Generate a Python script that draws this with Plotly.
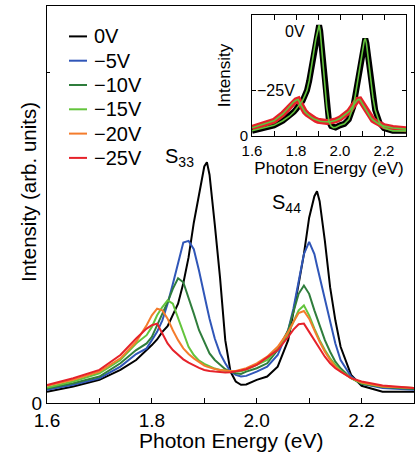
import plotly.graph_objects as go

# ---------------- data ----------------
energy = [1.60, 1.65, 1.70, 1.74, 1.77, 1.79, 1.80, 1.81, 1.82, 1.83, 1.84, 1.85,
          1.86, 1.87, 1.88, 1.89, 1.90, 1.905, 1.91, 1.92, 1.93, 1.94, 1.95, 1.96, 1.97,
          1.98, 2.00, 2.02, 2.04, 2.06, 2.07, 2.08, 2.09, 2.10, 2.11, 2.115, 2.12,
          2.13, 2.14, 2.15, 2.16, 2.18, 2.20, 2.24, 2.30]

v0 = [0.034, 0.050, 0.070, 0.100, 0.130, 0.158, 0.175, 0.192, 0.215, 0.232, 0.265, 0.300,
      0.362, 0.440, 0.545, 0.635, 0.715, 0.728, 0.690, 0.540, 0.380, 0.190, 0.095, 0.065, 0.055,
      0.056, 0.070, 0.080, 0.110, 0.190, 0.270, 0.360, 0.450, 0.560, 0.625, 0.640, 0.610,
      0.490, 0.350, 0.250, 0.170, 0.085, 0.052, 0.034, 0.034]

v5 = [0.040, 0.055, 0.075, 0.110, 0.148, 0.165, 0.190, 0.215, 0.250, 0.300, 0.360, 0.420,
      0.485, 0.490, 0.465, 0.400, 0.320, 0.290, 0.255, 0.195, 0.150, 0.120, 0.095, 0.085, 0.080,
      0.082, 0.095, 0.110, 0.145, 0.220, 0.285, 0.370, 0.450, 0.487, 0.450, 0.415, 0.380,
      0.310, 0.240, 0.180, 0.130, 0.080, 0.058, 0.045, 0.040]

v10 = [0.044, 0.060, 0.080, 0.120, 0.160, 0.180, 0.200, 0.235, 0.265, 0.305, 0.345, 0.377,
       0.365, 0.320, 0.270, 0.220, 0.185, 0.167, 0.150, 0.130, 0.115, 0.102, 0.095, 0.090, 0.088,
       0.095, 0.105, 0.120, 0.160, 0.220, 0.275, 0.330, 0.355, 0.330, 0.280, 0.257, 0.235,
       0.190, 0.155, 0.125, 0.105, 0.075, 0.058, 0.048, 0.042]

v15 = [0.047, 0.065, 0.090, 0.130, 0.180, 0.205, 0.230, 0.265, 0.290, 0.310, 0.300, 0.255,
       0.210, 0.170, 0.145, 0.128, 0.118, 0.114, 0.110, 0.104, 0.100, 0.097, 0.095, 0.095, 0.096,
       0.100, 0.115, 0.130, 0.165, 0.210, 0.245, 0.280, 0.295, 0.265, 0.225, 0.207, 0.190,
       0.160, 0.135, 0.115, 0.098, 0.075, 0.060, 0.050, 0.045]

v20 = [0.052, 0.070, 0.095, 0.135, 0.185, 0.235, 0.265, 0.285, 0.280, 0.255, 0.220, 0.190,
       0.165, 0.148, 0.135, 0.123, 0.113, 0.110, 0.107, 0.103, 0.100, 0.098, 0.097, 0.097, 0.100,
       0.105, 0.120, 0.140, 0.170, 0.215, 0.245, 0.272, 0.278, 0.255, 0.220, 0.202, 0.185,
       0.155, 0.130, 0.110, 0.095, 0.075, 0.062, 0.050, 0.045]

v25 = [0.054, 0.075, 0.100, 0.145, 0.195, 0.225, 0.235, 0.240, 0.210, 0.180, 0.160, 0.145,
       0.132, 0.122, 0.113, 0.106, 0.100, 0.098, 0.097, 0.095, 0.093, 0.092, 0.093, 0.095, 0.098,
       0.102, 0.115, 0.138, 0.160, 0.200, 0.222, 0.238, 0.240, 0.215, 0.190, 0.176, 0.162,
       0.140, 0.120, 0.105, 0.095, 0.075, 0.065, 0.053, 0.045]

series_names = ["0V", "\u22125V", "\u221210V", "\u221215V", "\u221220V", "\u221225V"]
series_vals = [v0, v5, v10, v15, v20, v25]
series_colors = ["#000000", "#3056b8", "#2f7d3c", "#63c43c", "#f47c2c", "#e6222a"]

x_ticks = [1.6, 1.8, 2.0, 2.2]

FONT = "Liberation Sans, Arial, Helvetica, sans-serif"

fig = go.Figure()

# main traces
for name, vals, col in zip(series_names, series_vals, series_colors):
    fig.add_trace(go.Scatter(x=energy, y=vals, mode="lines", name=name,
                             line=dict(color=col, width=2), showlegend=False,
                             xaxis="x", yaxis="y"))

# inset traces: thick data + thin green fit
for vals, col in [(v0, series_colors[0]), (v25, series_colors[5])]:
    fig.add_trace(go.Scatter(x=energy, y=vals, mode="lines", line=dict(color=col, width=6),
                             showlegend=False, xaxis="x2", yaxis="y2"))
for vals in [v0, v25]:
    fig.add_trace(go.Scatter(x=energy, y=vals, mode="lines",
                             line=dict(color=series_colors[3], width=1.6),
                             showlegend=False, xaxis="x2", yaxis="y2"))

# plot-area geometry (pixels)
W, H = 417, 462
ML, MR, MT, MB = 47, 3, 6, 59
PW, PH = W - ML - MR, H - MT - MB


def px(xp):
    return (xp - ML) / PW


def py(yp):
    return (H - MB - yp) / PH


# manual legend
shapes = []
annotations = []
for i, (name, col) in enumerate(zip(series_names, series_colors)):
    yy = 36.4 + 24.3 * i
    shapes.append(dict(type="line", xref="paper", yref="paper", x0=px(69), x1=px(87),
                       y0=py(yy), y1=py(yy), line=dict(color=col, width=2)))
    annotations.append(dict(xref="paper", yref="paper", x=px(92), y=py(yy), text=name,
                            showarrow=False, xanchor="left", yanchor="middle",
                            font=dict(size=20, color="black", family=FONT)))

annotations += [
    dict(xref="x", yref="y", x=1.821, y=0.742, text="S<sub>33</sub>", showarrow=False,
         xanchor="left", yanchor="middle", font=dict(size=20, color="black", family=FONT)),
    dict(xref="x", yref="y", x=2.025, y=0.602, text="S<sub>44</sub>", showarrow=False,
         xanchor="left", yanchor="middle", font=dict(size=20, color="black", family=FONT)),
    dict(xref="x2", yref="y2", x=1.795, y=0.684, text="0V", showarrow=False,
         xanchor="center", yanchor="middle", font=dict(size=16, color="black", family=FONT)),
    dict(xref="x2", yref="y2", x=1.71, y=0.30, text="\u221225V", showarrow=False,
         xanchor="center", yanchor="middle", font=dict(size=16, color="black", family=FONT)),
    # main axis titles
    dict(xref="paper", yref="paper", x=px(231), y=py(440), text="Photon Energy (eV)",
         showarrow=False, xanchor="center", yanchor="middle",
         font=dict(size=21, color="black", family=FONT)),
    dict(xref="paper", yref="paper", x=px(28), y=py(192), text="Intensity (arb. units)",
         showarrow=False, xanchor="center", yanchor="middle", textangle=-90,
         font=dict(size=20.5, color="black", family=FONT)),
]

ins_x0, ins_x1 = px(252), px(406)
ins_y0, ins_y1 = py(136), py(15)

fig.update_layout(
    width=W, height=H,
    margin=dict(l=ML, r=MR, t=MT, b=MB),
    paper_bgcolor="white", plot_bgcolor="white",
    font=dict(family=FONT, color="black"),
    shapes=shapes, annotations=annotations,
    xaxis=dict(domain=[0, 1], range=[1.6, 2.3], tickvals=x_ticks, tickformat=".1f",
               ticks="inside", ticklen=5,
               tickcolor="black", showline=True, linecolor="black", linewidth=1.2,
               mirror=True, showgrid=False, zeroline=False,
               minor=dict(ticks="inside", dtick=0.1, tick0=1.6, ticklen=5, tickcolor="black"),
               tickfont=dict(size=19, family=FONT)),
    yaxis=dict(domain=[0, 1], range=[0, 1.2], tickvals=[0],
               minor=dict(ticks="inside", tickvals=[1.0], ticklen=3, tickcolor="black"),
               ticks="inside", ticklen=3, tickcolor="black", showline=True, linecolor="black",
               linewidth=1.2, mirror="ticks", showgrid=False, zeroline=False,
               tickfont=dict(size=19, family=FONT)),
    xaxis2=dict(domain=[ins_x0, ins_x1], anchor="y2", range=[1.6, 2.3],
                tickvals=[1.6, 1.8, 2.0, 2.2], tickformat=".1f",
                minor=dict(ticks="inside", dtick=0.1, tick0=1.6, ticklen=5, tickcolor="black"),
                ticks="inside", ticklen=5, tickcolor="black",
                showline=True, linecolor="black", linewidth=1, mirror="ticks",
                showgrid=False, zeroline=False, tickfont=dict(size=15, family=FONT),
                ticklabelstandoff=1,
                title=dict(text="Photon Energy (eV)", font=dict(size=17, family=FONT), standoff=1)),
    yaxis2=dict(domain=[ins_y0, ins_y1], anchor="x2", range=[0, 0.795], tickvals=[0],
                minor=dict(ticks="inside", tickvals=[0.3], ticklen=4, tickcolor="black"),
                ticks="inside", ticklen=4, tickcolor="black",
                showline=True, linecolor="black", linewidth=1, mirror="ticks",
                showgrid=False, zeroline=False, tickfont=dict(size=15, family=FONT),
                title=dict(text="Intensity", font=dict(size=17, family=FONT), standoff=4)),
)

fig.write_html("out.html")
